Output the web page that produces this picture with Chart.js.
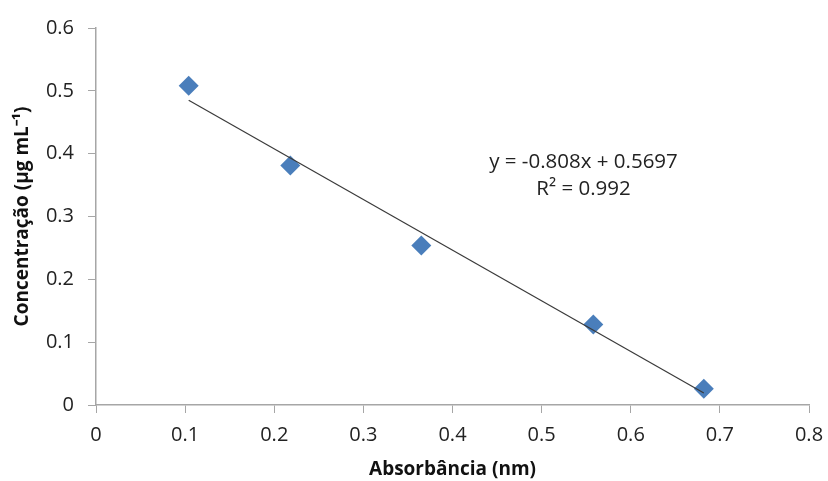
<!DOCTYPE html>
<html>
<head>
<meta charset="utf-8">
<script src="https://cdn.jsdelivr.net/npm/chart.js@4"></script>
<style>
  html, body { margin: 0; padding: 0; background: #fff; }
  #wrap { width: 828px; height: 481px; }
</style>
</head>
<body>
<div id="wrap"><canvas id="chart"></canvas></div>
<script>
const absorbance = [0.104, 0.218, 0.365, 0.558, 0.682];
const concentration = [0.508, 0.381, 0.254, 0.128, 0.026];
const trendX = [0.104, 0.682];
const trendY = [0.485, 0.019];
const equationLines = ["y = -0.808x + 0.5697", "R\u00B2 = 0.992"];
const equationPos = { x: 0.547, y: 0.386 };

const axisColor = "#a6a6a6";
const fontFamily = "'Open Sans', 'Liberation Sans', sans-serif";
const tickFont = { family: fontFamily, size: 20 };
const titleFont = { family: fontFamily, size: 19, weight: "bold" };

const equationLabel = {
    id: "equationLabel",
    afterDatasetsDraw(chart) {
        const ctx = chart.ctx;
        const px = chart.scales.x.getPixelForValue(equationPos.x);
        const py = chart.scales.y.getPixelForValue(equationPos.y);
        ctx.save();
        ctx.fillStyle = "#222";
        ctx.font = "20.5px " + fontFamily;
        ctx.textAlign = "center";
        ctx.textBaseline = "middle";
        equationLines.forEach((line, i) => {
            ctx.fillText(line, px, py + i * 27);
        });
        ctx.restore();
    },
};

const pts = absorbance.map((v, i) => ({ x: v, y: concentration[i] }));
const trend = trendX.map((v, i) => ({ x: v, y: trendY[i] }));

new Chart(document.getElementById("chart"), {
    type: "scatter",
    data: {
        datasets: [
            {
                label: "Concentração",
                data: pts,
                pointStyle: "rectRot",
                pointRadius: 10,
                pointHoverRadius: 10,
                backgroundColor: "#4a7ebb",
                borderColor: "#4a7ebb",
                borderWidth: 0,
                order: 2,
            },
            {
                label: "Linear",
                type: "line",
                data: trend,
                borderColor: "#3a3a3a",
                borderWidth: 1.2,
                pointRadius: 0,
                fill: false,
                order: 1,
            },
        ],
    },
    options: {
        responsive: true,
        maintainAspectRatio: false,
        animation: false,
        layout: { padding: { top: 28, right: 19, bottom: 0, left: 0 } },
        plugins: {
            legend: { display: false },
            tooltip: { enabled: false },
        },
        scales: {
            x: {
                type: "linear",
                min: 0,
                max: 0.8,
                afterFit: (scale) => {
                    scale.height = 76;
                    scale.paddingLeft = 0;
                    scale.paddingRight = 0;
                },
                ticks: {
                    stepSize: 0.1,
                    color: "#222",
                    font: tickFont,
                    padding: 10,
                    callback: (v) => (Math.round(v * 10) / 10).toString(),
                },
                grid: {
                    display: true,
                    drawOnChartArea: false,
                    drawTicks: true,
                    tickLength: 8,
                    color: axisColor,
                },
                border: { color: axisColor, width: 1.5 },
                title: {
                    display: true,
                    text: "Absorbância (nm)",
                    color: "#111",
                    font: titleFont,
                    padding: { top: 4, bottom: 0 },
                },
            },
            y: {
                type: "linear",
                min: 0,
                max: 0.6,
                afterFit: (scale) => { scale.width = 96; },
                ticks: {
                    stepSize: 0.1,
                    color: "#222",
                    font: tickFont,
                    padding: 14,
                    callback: (v) => (Math.round(v * 10) / 10).toString(),
                },
                grid: {
                    display: true,
                    drawOnChartArea: false,
                    drawTicks: true,
                    tickLength: 8,
                    color: axisColor,
                },
                border: { color: axisColor, width: 1.5 },
                title: {
                    display: true,
                    text: "Concentração (µg mL\u207B\u00B9)",
                    color: "#111",
                    font: titleFont,
                    padding: { top: 11, bottom: 0 },
                },
            },
        },
    },
    plugins: [equationLabel],
});
</script>
</body>
</html>
